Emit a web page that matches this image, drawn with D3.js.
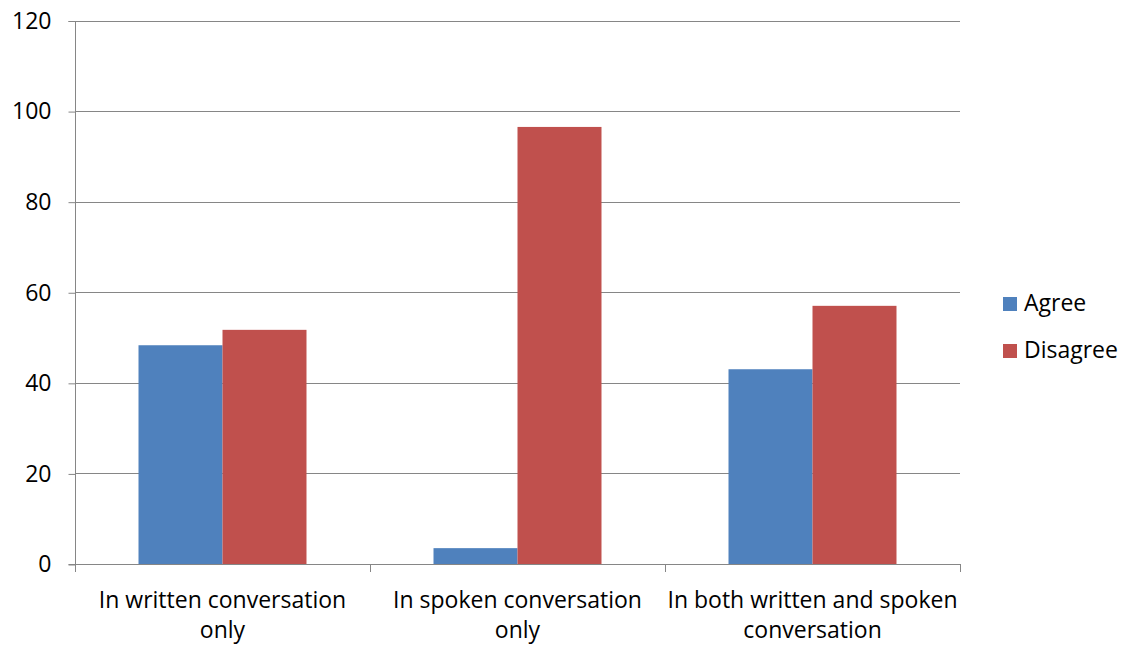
<!DOCTYPE html>
<html>
<head>
<meta charset="utf-8">
<script src="https://cdn.jsdelivr.net/npm/d3@7"></script>
<style>
  html, body { margin: 0; padding: 0; background: #fff; }
  svg { display: block; font-family: "Open Sans", Lato, sans-serif; }
</style>
</head>
<body>
<svg id="chart" width="1127" height="646"></svg>
<script>
// Survey responses per conversation type (percent)
const categories = [
  ["In written conversation", "only"],
  ["In spoken conversation", "only"],
  ["In both written and spoken", "conversation"]
];
const seriesNames = ["Agree", "Disagree"];
const agreeValues = [48.3, 3.5, 43.0];
const disagreeValues = [51.7, 96.5, 57.0];
const yTicks = [0, 20, 40, 60, 80, 100, 120];
const colors = ["#4F81BD", "#C0504D"];

const svg = d3.select("#chart");
const plotLeft = 75, plotRight = 960, plotTop = 20.5, plotBottom = 564;
const fontSize = 23;

const catKeys = categories.map((d, i) => i);
const x0 = d3.scaleBand().domain(catKeys).range([plotLeft, plotRight]).padding(0);
const x1 = d3.scaleBand().domain(seriesNames).range([0, x0.bandwidth()])
  .paddingInner(0).paddingOuter(0.756);
const y = d3.scaleLinear().domain([0, 120]).range([plotBottom, plotTop]);

const gridColor = "#868686";

// horizontal gridlines
svg.append("g").selectAll("line").data(yTicks.filter(t => t > 0)).join("line")
  .attr("x1", plotLeft).attr("x2", plotRight)
  .attr("y1", d => Math.round(y(d)) + 0.5).attr("y2", d => Math.round(y(d)) + 0.5)
  .attr("stroke", gridColor).attr("stroke-width", 1);

// bars
const rows = catKeys.map(i => ({ i, vals: [agreeValues[i], disagreeValues[i]] }));
const groups = svg.append("g").selectAll("g").data(rows).join("g")
  .attr("transform", d => `translate(${x0(d.i)},0)`);
groups.selectAll("rect").data(d => d.vals.map((v, k) => ({ k, v }))).join("rect")
  .attr("x", d => x1(seriesNames[d.k]))
  .attr("width", x1.bandwidth())
  .attr("y", d => y(d.v))
  .attr("height", d => y(0) - y(d.v))
  .attr("fill", d => colors[d.k]);

// y axis
const yAxis = d3.axisLeft(y).tickValues(yTicks).tickSize(7).tickPadding(17);
const gy = svg.append("g").attr("transform", `translate(${plotLeft + 0.5},0.5)`).call(yAxis);
gy.select(".domain").attr("stroke", gridColor)
  .attr("d", `M-7,${Math.round(plotTop)}H0V${Math.round(plotBottom)}H-7`);
gy.selectAll(".tick line").attr("stroke", gridColor);
gy.selectAll(".tick text").attr("font-size", fontSize).attr("fill", "#000")
  .attr("font-family", "'Open Sans', Lato, sans-serif");

// x axis baseline and category tick marks
const boundaries = catKeys.map(i => x0(i)).concat([plotRight]);
svg.append("line").attr("x1", plotLeft).attr("x2", plotRight)
  .attr("y1", Math.round(plotBottom) + 0.5).attr("y2", Math.round(plotBottom) + 0.5)
  .attr("stroke", gridColor);
svg.append("g").selectAll("line").data(boundaries).join("line")
  .attr("x1", d => Math.round(d) + 0.5).attr("x2", d => Math.round(d) + 0.5)
  .attr("y1", Math.round(plotBottom)).attr("y2", Math.round(plotBottom) + 8)
  .attr("stroke", gridColor);

// category labels
const labels = svg.append("g").selectAll("text").data(categories).join("text")
  .attr("text-anchor", "middle").attr("font-size", fontSize).attr("fill", "#000")
  .attr("transform", (d, i) => `translate(${x0(i) + x0.bandwidth() / 2},0)`);
labels.selectAll("tspan").data(d => d).join("tspan")
  .attr("x", 0).attr("y", (d, j) => 608 + j * 30).text(d => d);

// legend
const legend = svg.append("g").selectAll("g").data(seriesNames).join("g")
  .attr("transform", (d, i) => `translate(1003,${297 + i * 47})`);
legend.append("rect").attr("width", 14).attr("height", 14)
  .attr("fill", (d, i) => colors[i]);
legend.append("text").attr("x", 21).attr("y", 14).attr("font-size", fontSize)
  .attr("fill", "#000").text(d => d);
</script>
</body>
</html>
